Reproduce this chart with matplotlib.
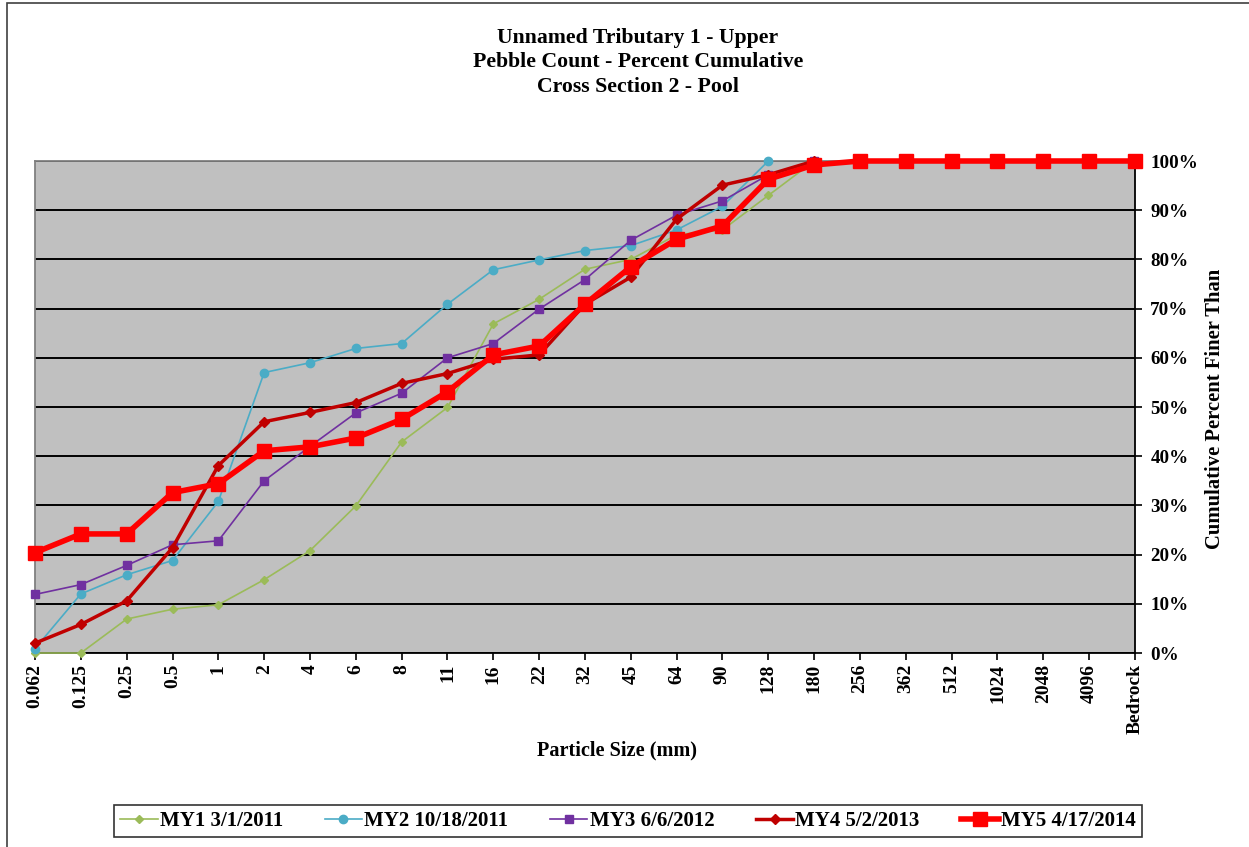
import matplotlib
matplotlib.use("Agg")
import matplotlib.pyplot as plt
from matplotlib.patches import Rectangle
from matplotlib.ticker import FixedLocator, PercentFormatter

plt.rcParams['font.family'] = ['Liberation Serif', 'DejaVu Serif']
plt.rcParams['font.weight'] = 'bold'

categories = ["0.062", "0.125", "0.25", "0.5", "1", "2", "4", "6", "8", "11", "16", "22",
              "32", "45", "64", "90", "128", "180", "256", "362", "512", "1024", "2048",
              "4096", "Bedrock"]

my1 = [0, 0, 6.9, 8.9, 9.8, 14.9, 20.8, 29.9, 42.9, 49.9, 66.9, 71.9, 78, 80, 85, 86, 93, 100]
my2 = [0.9, 12, 15.9, 18.8, 30.8, 57, 59, 61.9, 62.9, 70.9, 77.9, 79.9, 81.8, 82.8, 86, 90.8, 100]
my3 = [11.9, 13.9, 17.8, 22, 22.8, 35, 42, 48.8, 52.8, 60, 62.9, 69.9, 75.9, 83.9, 89, 91.9, 97.2, 100]
my4 = [2, 5.8, 10.6, 21.4, 38.1, 47, 48.9, 50.9, 54.8, 56.8, 59.7, 60.6, 70.9, 76.4, 88.2, 95.1, 97.2, 100]
my5 = [20.4, 24.2, 24.2, 32.6, 34.4, 41.1, 41.9, 43.7, 47.5, 53.1, 60.6, 62.4, 70.9, 78.5, 84.1,
       86.8, 96.3, 99.2, 100, 100, 100, 100, 100, 100, 100]

labels = ["MY1 3/1/2011", "MY2 10/18/2011", "MY3 6/6/2012", "MY4 5/2/2013", "MY5 4/17/2014"]

W, H = 1249, 847
fig = plt.figure(figsize=(W / 100, H / 100), dpi=100)
fig.patch.set_facecolor('white')
fig.patches.append(Rectangle((7 / W, -0.1), 1.2, 1 - 3 / H + 0.1, transform=fig.transFigure,
                             fill=False, edgecolor='#404040', linewidth=1.2))

ax = fig.add_axes([35 / W, 1 - 653 / H, 1100 / W, 492 / H])
ax.set_facecolor('#C0C0C0')

x_all = list(range(len(categories)))
styles = [
    dict(color='#9BBB59', marker='D', markersize=4.5, linewidth=1.2),
    dict(color='#4BACC6', marker='o', markersize=6, linewidth=1.2),
    dict(color='#7030A0', marker='s', markersize=6, linewidth=1.2),
    dict(color='#C00000', marker='D', markersize=5, linewidth=2.5),
    dict(color='#FF0000', marker='s', markersize=10, linewidth=4),
]
series = [my1, my2, my3, my4, my5]
handles = []
for data, st, lab in zip(series, styles, labels):
    h, = ax.plot(x_all[:len(data)], data, label=lab, zorder=3, clip_on=False, **st)
    handles.append(h)

ax.set_xlim(0, len(categories) - 1)
ax.set_ylim(0, 100)
ax.set_xticks(x_all)
ax.set_xticklabels(categories, rotation=90, fontsize=14, fontweight='bold')
ax.yaxis.tick_right()
ax.yaxis.set_major_locator(FixedLocator(range(0, 101, 10)))
ax.yaxis.set_major_formatter(PercentFormatter(decimals=0))
for t in ax.get_yticklabels():
    t.set_fontsize(13.7)
    t.set_fontweight('bold')
ax.tick_params(axis='both', direction='out', length=5, width=1.2, color='black')
ax.tick_params(axis='y', pad=6)
ax.tick_params(axis='x', pad=3)
ax.grid(axis='y', color='black', linewidth=1.4, zorder=1)
ax.set_axisbelow(True)
ax.spines['top'].set_color('#808080')
ax.spines['left'].set_color('#808080')
ax.spines['right'].set_color('black')
ax.spines['bottom'].set_color('black')
for s in ax.spines.values():
    s.set_linewidth(1.3)

fig.text(638 / W, 1 - 62 / H,
         "Unnamed Tributary 1 - Upper\nPebble Count - Percent Cumulative\nCross Section 2 - Pool",
         ha='center', va='center', fontsize=15.7, fontweight='bold', linespacing=1.3)
fig.text(617 / W, 1 - 750 / H, "Particle Size (mm)", ha='center', va='center',
         fontsize=14.6, fontweight='bold')
fig.text(1215 / W, 1 - 409 / H, "Cumulative Percent Finer Than", ha='center', va='center',
         rotation=90, fontsize=14.9, fontweight='bold')

leg = fig.legend(handles=handles, labels=labels, loc='center', ncol=5,
                 bbox_to_anchor=(628 / W, 1 - 821 / H), frameon=True, fancybox=False,
                 edgecolor='black', handlelength=1.8, columnspacing=2.0,
                 handletextpad=0.1, borderpad=0.3, prop={'weight': 'bold', 'size': 15})
leg.get_frame().set_linewidth(1.2)

fig.savefig('out.png', dpi=100)
